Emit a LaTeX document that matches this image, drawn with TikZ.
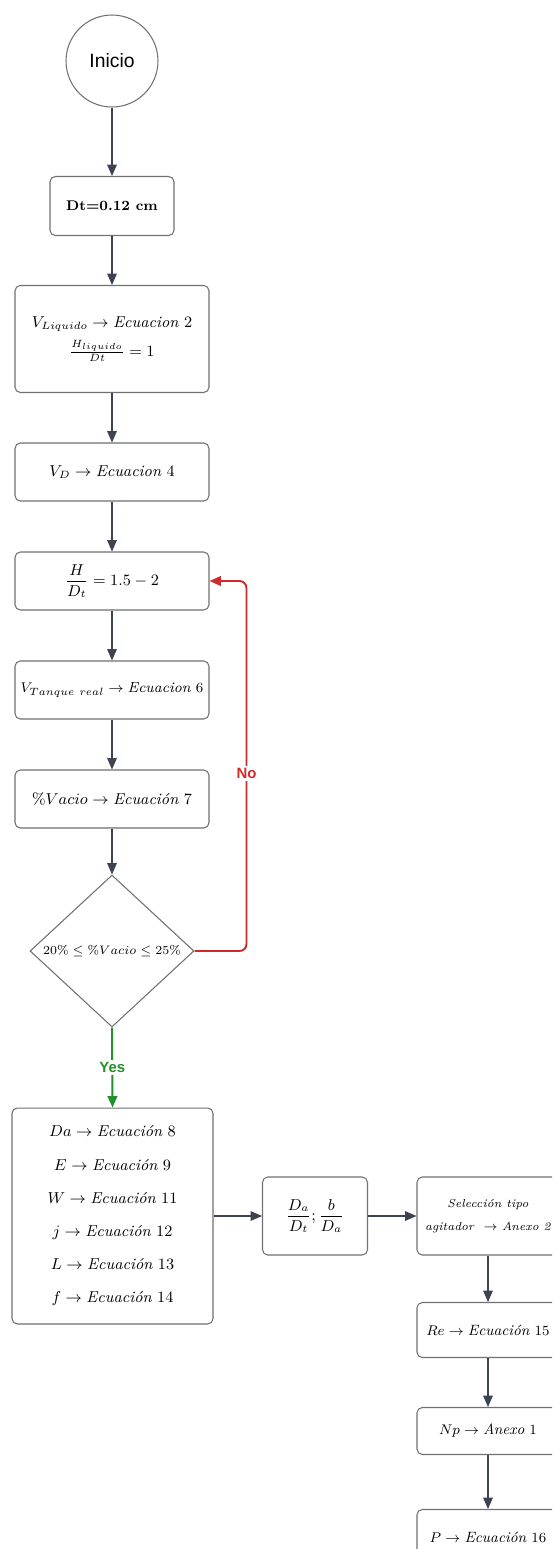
\documentclass[tikz,border=0pt]{standalone}
\usepackage{amsmath}
\usepackage{amssymb}
\usepackage{fontspec}
\setsansfont{Liberation Sans}
\usetikzlibrary{positioning,arrows.meta,shapes.geometric}

\definecolor{linegray}{HTML}{3D4350}
\definecolor{boxgray}{HTML}{707070}
\definecolor{loopred}{HTML}{D02B2B}
\definecolor{yesgreen}{HTML}{23912B}
\newcommand{\eqfont}{\fontsize{9}{10.5}\selectfont}
\newcommand{\itw}[1]{\mbox{\itshape #1}}

\begin{document}
\begin{tikzpicture}[x=0.02cm, y=-0.02cm,
    box/.style={draw=boxgray, rounded corners=3pt, minimum width=3.88cm, minimum height=1.16cm,
                font=\eqfont, align=center, fill=white, line width=0.6pt, inner sep=2pt},
    decision/.style={draw=boxgray, diamond, minimum width=3.28cm, minimum height=3.04cm,
                inner sep=0pt, font=\fontsize{7}{9}\selectfont, fill=white, line width=0.6pt},
    arrow/.style={-{Triangle[length=6.5pt, width=5.5pt]}, linegray, line width=0.6pt},
    lbl/.style={font=\sffamily\bfseries\fontsize{8.5}{10}\selectfont, fill=white, inner sep=1.5pt},
]
\useasboundingbox (0,0) rectangle (552,1549);
\clip (0,0) rectangle (552,1549);

% main column
\node[draw=boxgray, circle, minimum size=1.84cm, inner sep=0pt, line width=0.6pt,
      font=\sffamily\fontsize{11}{13}\selectfont] (inicio) at (112,61) {Inicio};
\node[box, minimum width=2.48cm, minimum height=1.18cm, font=\fontsize{8}{10}\selectfont] (dt) at (112,206)
    {\textbf{Dt=0.12 cm}};
\node[box, minimum height=2.14cm] (vliq) at (112,339)
    {$V_{Liquido} \rightarrow \itw{Ecuacion} \ 2$\\[4pt] $\frac{H_{liquido}}{Dt} = 1$};
\node[box] (vd) at (112,472) {$V_D \rightarrow \itw{Ecuacion}\ 4$};
\node[box] (hdt) at (112,581) {$\dfrac{H}{D_t} = 1.5 - 2$};
\node[box, font=\fontsize{8.3}{10}\selectfont] (vtq) at (112,690) {$V_{Tanque\ real} \rightarrow \itw{Ecuacion}\ 6$};
\node[box] (vacio) at (112,799) {$\%Vacio \rightarrow \itw{Ecuación}\ 7$};
\node[decision] (cond) at (112,951) {$20\% \leq \%Vacio \leq 25\%$};
\node[box, minimum width=4.02cm, minimum height=4.32cm, font=\fontsize{9}{18.9}\selectfont] (dims) at (112.5,1216)
    {$Da \rightarrow \itw{Ecuación}\ 8$\\ $E \rightarrow \itw{Ecuación}\ 9$\\
     $W \rightarrow \itw{Ecuación}\ 11$\\ $j \rightarrow \itw{Ecuación}\ 12$\\
     $L \rightarrow \itw{Ecuación}\ 13$\\ $f \rightarrow \itw{Ecuación}\ 14$};

% right branch
\node[box, minimum width=2.1cm, minimum height=1.56cm] (ratio) at (315,1216)
    {$\dfrac{D_a}{D_t};\dfrac{b}{D_a}$};
\node[box, minimum width=2.84cm, minimum height=1.56cm, font=\fontsize{6.6}{13}\selectfont] (sel) at (488,1216)
    {\textit{Selección tipo}\\ \textit{agitador} \ $\rightarrow$ \textit{Anexo 2}};
\node[box, minimum width=2.84cm, minimum height=1.1cm, font=\fontsize{8.5}{10}\selectfont] (re) at (488,1330)
    {$Re \rightarrow \itw{Ecuación}\ 15$};
\node[box, minimum width=2.84cm, minimum height=0.94cm, font=\fontsize{8.5}{10}\selectfont] (np) at (488,1431)
    {$Np \rightarrow \itw{Anexo}\ 1$};
\node[box, minimum width=2.84cm, minimum height=1.1cm, font=\fontsize{8.5}{10}\selectfont] (pot) at (488,1537)
    {$P \rightarrow \itw{Ecuación}\ 16$};

% connectors
\draw[arrow] (inicio) -- (dt);
\foreach \a/\b in {dt/vliq, vliq/vd, vd/hdt, hdt/vtq, vtq/vacio, vacio/cond} {
    \draw[arrow] (\a) -- (\b);
}
\draw[arrow, yesgreen, line width=1.1pt] (cond.south) -- (dims.north) node[midway, lbl] {Yes};
\draw[arrow, loopred, line width=1.1pt, rounded corners=4pt] (cond.east) -- ++(52,0) |- (hdt.east)
    node[pos=0.24, lbl, rounded corners=0pt] {No};
\draw[arrow] (dims) -- (ratio);
\draw[arrow] (ratio) -- (sel);
\foreach \a/\b in {sel/re, re/np, np/pot} {
    \draw[arrow] (\a) -- (\b);
}
\end{tikzpicture}
\end{document}
